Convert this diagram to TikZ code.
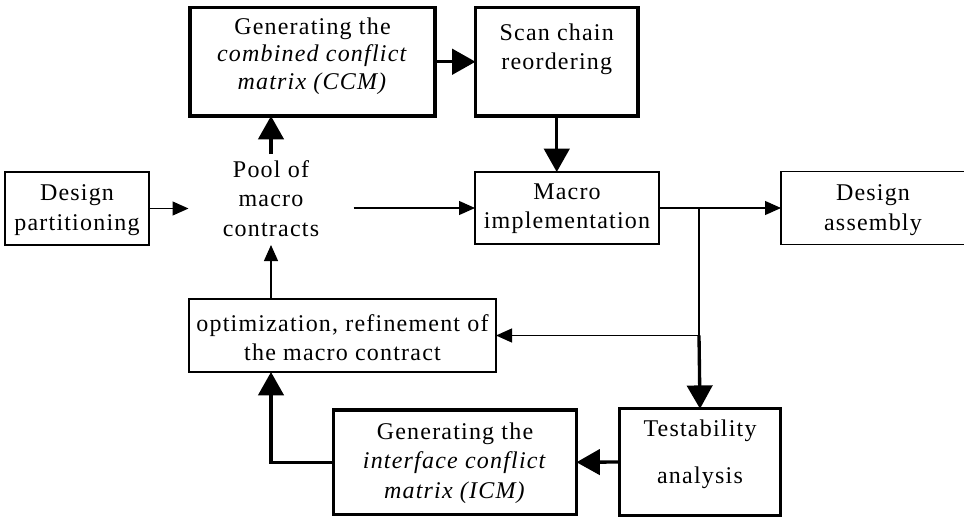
\documentclass[tikz,border=0pt]{standalone}
\usepackage{fontspec}
\setmainfont[LetterSpace=5]{Liberation Serif}
\usetikzlibrary{arrows.meta}
\begin{document}
\begin{tikzpicture}[x=0.75pt,y=-0.75pt,
  every node/.style={font=\fontsize{18}{22}\selectfont, inner sep=0pt, outer sep=0pt},
  thinbox/.style={draw, line width=1pt},
  thickbox/.style={draw, line width=2.5pt},
  lbl/.style={align=center},
  thinline/.style={line width=0.9pt},
  thinarrow/.style={line width=0.9pt, -{Triangle[length=12pt,width=10.5pt]}},
  thickarrow/.style={line width=2.5pt, -{Triangle[length=17.5pt,width=19pt]}},
]
\useasboundingbox (0,0) rectangle (964,518);
\clip (0,0) rectangle (964,518);

% frames of the process steps
\node[thinbox,  minimum width=144*0.75pt, minimum height=73*0.75pt]    (part)  at (77,208.5) {};
\node[thickbox, minimum width=245*0.75pt, minimum height=108.5*0.75pt] (ccm)   at (312.5,61.75) {};
\node[thickbox, minimum width=162.5*0.75pt, minimum height=108.5*0.75pt] (scan) at (556.75,61.75) {};
\node[thinbox,  minimum width=184*0.75pt, minimum height=72*0.75pt]    (macro) at (567,208) {};
\node[thinbox,  minimum width=187*0.75pt, minimum height=73*0.75pt]    (assem) at (874.5,208) {};
\node[thinbox,  minimum width=307*0.75pt, minimum height=73*0.75pt]    (opt)   at (342.5,335.5) {};
\node[thickbox, minimum width=243*0.75pt, minimum height=104.5*0.75pt] (icm)   at (455,462.25) {};
\node[thickbox, minimum width=161*0.75pt, minimum height=106.5*0.75pt] (test)  at (700,462) {};
\node[minimum width=165*0.75pt, minimum height=91*0.75pt] (pool) at (271,199.5) {};

% labels
\node[lbl] (parttext)  at (77,210)    {Design\\partitioning};
\node[lbl, font=\fontsize{18}{20.6}\selectfont] (ccmtext) at (312.5,56)
  {Generating the\\\textit{combined conflict}\\\textit{matrix (CCM)}};
\node[lbl] (scantext)  at (556.75,49) {Scan chain\\reordering};
\node[lbl] (macrotext) at (567,209)   {Macro\\implementation};
\node[lbl] (assemtext) at (873,210)   {Design\\assembly};
\node[lbl] (opttext)   at (342.5,337.5) {optimization, refinement of\\the macro contract};
\node[lbl] (icmtext)   at (455,463)   {Generating the\\\textit{interface conflict}\\\textit{matrix (ICM)}};
\node[lbl] (testtext)  at (700,454)   {Testability\\[13pt]analysis};
\node[lbl] (pooltext)  at (271,198.5) {Pool of\\macro\\contracts};

% flow
\coordinate (j) at (699,208);
\draw[thinarrow] (part.east) -- (part.east -| pool.west);
\draw[thinarrow] (macro.west -| pool.east) -- (macro.west);
\draw[thinarrow] (macro.east) -- (assem.west);
\draw[thickarrow] (pool.north) -- (pool.north |- ccm.south);
\draw[thickarrow] (ccm.east) -- (scan.west);
\draw[thickarrow] (scan.south) -- (scan.south |- macro.north);
\draw[thinline] (j) -- (j |- opt.east);
\draw[thinarrow] (j |- opt.east) -- (opt.east);
\draw[thickarrow] (j |- opt.east) -- (test.north);
\draw[thinarrow] (pool.south |- opt.north) -- (pool.south);
\draw[thickarrow] (test.west) -- (icm.east);
\draw[thickarrow] (icm.west) -| (pool.south |- opt.south);
\end{tikzpicture}
\end{document}
